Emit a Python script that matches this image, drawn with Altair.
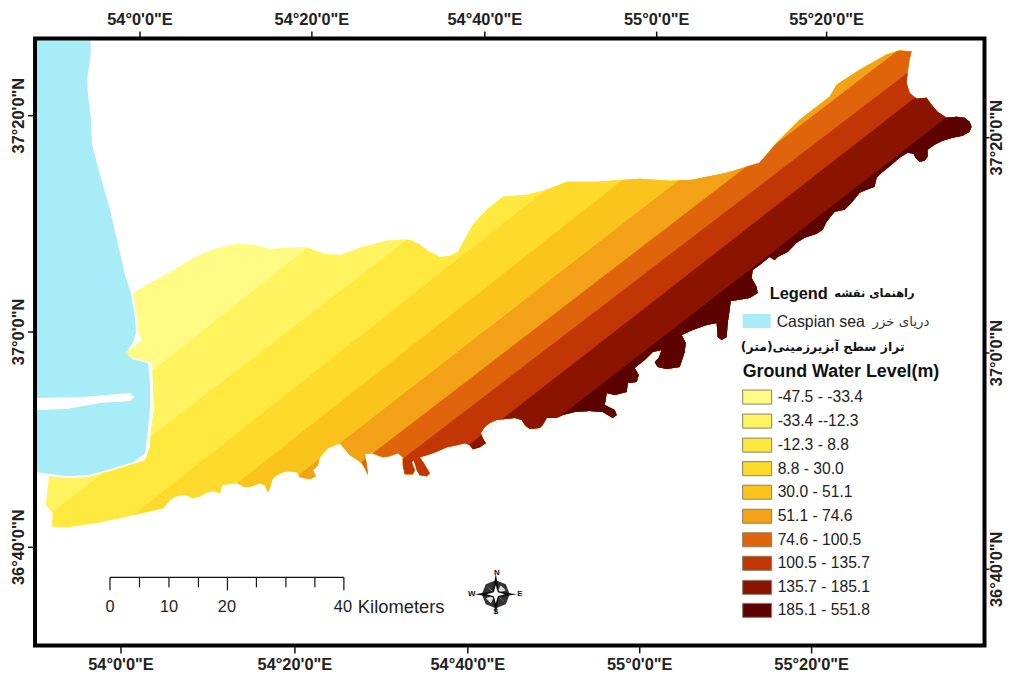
import altair as alt
import pandas as pd

W, H = 1006, 667
FONT = "Liberation Sans"

north_coast = [(133,293),(150,283),(170,272),(195,257),(215,249),(237,244),(255,245),(270,249),(288,248),(305,247),(325,254),(340,255),(363,247),(387,241),(400,240),(410,240),(420,245),(430,252),(440,257),(450,256),(458,252),(463,243),(468,234),(473,225),(487,210),(503,197),(527,195),(547,190),(567,182),(597,182),(640,179),(670,181),(693,180),(727,173),(760,163),(777,143),(800,120),(830,97),(837,85),(860,70),(887,55),(900,51),(912,52),(910,60)]
east_head = [(908,73),(907,83),(910,93),(917,99),(927,98),(932,105),(938,112),(947,118),(957,117),(965,118),(970,122),(972,127),(970,132),(963,136),(953,138),(943,141),(935,145),(928,150),(928,157),(925,161),(920,162),(916,158),(914,154),(908,153),(900,158),(892,165),(882,173),(877,178),(875,187),(867,190),(860,193),(852,203),(845,210),(835,212),(827,222),(823,230),(817,234),(805,238),(797,243),(788,252),(778,257),(775,260),(770,257),(760,265),(753,270),(752,278),(757,287),(758,293),(750,298),(738,300),(731,301),(730,310),(728,323),(727,337),(722,340),(718,337),(717,323)]
south_east = [(707,325),(693,330),(682,335),(686,343),(685,352),(680,367),(667,369),(658,367),(655,362),(659,358),(662,350),(653,352),(645,360),(635,368),(639,375),(637,382),(628,383),(627,392),(615,395),(607,393),(605,405),(615,410),(617,415),(613,418),(603,412),(590,411),(575,412),(563,415),(557,418),(547,418),(543,425),(540,428),(530,429),(525,425),(522,420),(515,418),(505,419),(497,420),(490,423),(485,427),(481,433),(483,438),(486,443),(480,447),(473,449),(470,445),(465,443),(457,445),(447,447),(438,451),(430,454),(420,457),(424,463),(430,473),(427,476),(420,475),(417,470),(414,460),(412,462),(415,470),(413,474),(405,474),(403,465),(403,457),(398,453),(390,456),(383,457),(375,454),(372,453),(365,454),(367,465),(368,475),(365,468),(362,463),(355,458),(350,455),(345,449),(340,443)]
south_west = [(328,448),(320,457),(318,465),(313,470),(316,476),(310,479),(300,477),(297,472),(290,471),(283,472),(275,476),(272,480),(270,488),(268,492),(265,485),(260,483),(252,486),(245,487),(237,483),(228,484),(222,485),(220,493),(214,491),(208,492),(200,496),(193,498),(186,495),(180,495),(174,497),(170,500),(163,508),(150,511),(133,515),(100,522),(67,527),(52,526),(53,513),(46,505),(49,476)]
sea_side = [(68,478),(87,477),(113,470),(145,460),(150,447),(151,430),(154,410),(153,383),(152,363),(130,357),(125,352),(133,347),(142,340),(138,333),(137,317)]
land_x = [p[0] for p in north_coast + east_head + south_east + south_west + sea_side]
land_y = [p[1] for p in north_coast + east_head + south_east + south_west + sea_side]

sea = [(36,40),(90,40),(91,50),(90,60),(87,80),(88,95),(91,120),(92,145),(100,175),(110,210),(117,240),(125,275),(131,293),(135,317),(136,333),(133,342),(127,352),(132,359),(148,363),(150,383),(150,407),(148,430),(145,453),(133,462),(100,472),(87,475),(67,476),(37,472),(36,472)]
sea_x = [p[0] for p in sea]
sea_y = [p[1] for p in sea]
channel_x = [36,83,130,135,130,100,67,36]
channel_y = [398,397,393,397,401,403,409,410]

# class boundaries: two end points of each straight contour
bound_x1 = [147,52,133,237,340,373,405,505,562]
bound_y1 = [375,512,515,483,443,453,457,417,415]
bound_x2 = [307,407,537,623,677,893,908,913,948]
bound_y2 = [248,240,197,180,182,55,73,100,117]

class_labels = ["-47.5 - -33.4","-33.4 --12.3","-12.3 - 8.8","8.8 - 30.0","30.0 - 51.1","51.1 - 74.6","74.6 - 100.5","100.5 - 135.7","135.7 - 185.1","185.1 - 551.8"]
class_colors = ["#FFFB85","#FFF35F","#FFE93F","#FDDA2B","#FAC41C","#F3A116","#E0640C","#C23505","#8A1400","#5C0200"]
SEA = "#A8ECF7"

top_tick_x = [140,312,485,657,827]
bottom_tick_x = [121,295,468,640,812]
lon_labels = ["54°0'0\"E","54°20'0\"E","54°40'0\"E","55°0'0\"E","55°20'0\"E"]
left_tick_y = [116,332,547]
right_tick_y = [138,353,569]
lat_labels = ["37°20'0\"N","37°0'0\"N","36°40'0\"N"]

scale_tick_x = [110,139.5,169,198.5,227.5,256.5,286,315,344]
scale_tick_end = [590,587,587,587,590,587,587,587,590]

X = alt.X("x:Q", axis=None, scale=alt.Scale(domain=[7.94, 1006.5], nice=False, zero=False))
Y = alt.Y("y:Q", axis=None, scale=alt.Scale(domain=[671.9, 11.1], nice=False, zero=False))


def clip(px, py, x1, y1, x2, y2):
    """keep the part of a ring on the south-east side of a contour line"""
    def side(a, b):
        return (x2 - x1) * (b - y1) - (y2 - y1) * (a - x1)
    ox, oy = [], []
    n = len(px)
    for i in range(n):
        a, b = px[i], py[i]
        c, d = px[(i + 1) % n], py[(i + 1) % n]
        sa, sc = side(a, b), side(c, d)
        if sa >= 0:
            ox.append(a); oy.append(b)
        if (sa >= 0) != (sc >= 0):
            t = sa / (sa - sc)
            ox.append(a + t * (c - a)); oy.append(b + t * (d - b))
    return ox, oy


def poly(px, py, color, stroke=0):
    df = pd.DataFrame({"x": list(px) + [px[0]], "y": list(py) + [py[0]], "i": range(len(px) + 1)})
    return alt.Chart(df).mark_line(fill=color, stroke=color, strokeWidth=stroke, interpolate="linear").encode(
        x=X, y=Y, order=alt.Order("i:Q"))


def text(df, size, bold=False, align="center", font=FONT, angle=0, color="#111111"):
    kw = dict(fontSize=size, align=align, baseline="middle", font=font, color=color)
    if bold:
        kw["fontWeight"] = "bold"
    if angle:
        kw["angle"] = angle
    return alt.Chart(pd.DataFrame(df)).mark_text(**kw).encode(x=X, y=Y, text="t:N")


def rules(x1, y1, x2, y2, width=1.5, color="#111111"):
    df = pd.DataFrame({"x": x1, "y": y1, "x2": x2, "y2": y2})
    return alt.Chart(df).mark_rule(color=color, strokeWidth=width).encode(x=X, y=Y, x2="x2:Q", y2="y2:Q")


layers = [poly(sea_x, sea_y, SEA), poly(channel_x, channel_y, "#FFFFFF")]
px, py = land_x, land_y
layers.append(poly(px, py, class_colors[0]))
for k in range(9):
    px, py = clip(px, py, bound_x1[k], bound_y1[k], bound_x2[k], bound_y2[k])
    layers.append(poly(px, py, class_colors[k + 1]))

# frame
layers.append(alt.Chart(pd.DataFrame({"x": [35], "y": [39], "x2": [985], "y2": [645]})).mark_rect(
    fill=None, stroke="#000000", strokeWidth=4).encode(x=X, y=Y, x2="x2:Q", y2="y2:Q"))

# graticule ticks and labels
layers.append(rules(top_tick_x, [32]*5, top_tick_x, [38]*5))
layers.append(rules(bottom_tick_x, [646]*5, bottom_tick_x, [653]*5))
layers.append(rules([28]*3, left_tick_y, [34]*3, left_tick_y))
layers.append(rules([986]*3, right_tick_y, [990]*3, right_tick_y))
layers.append(text({"x": top_tick_x, "y": [20]*5, "t": lon_labels}, 16.5, bold=True, color="#222222"))
layers.append(text({"x": bottom_tick_x, "y": [665]*5, "t": lon_labels}, 16.5, bold=True, color="#222222"))
layers.append(text({"x": [18.5]*3, "y": left_tick_y, "t": lat_labels}, 16.5, bold=True, angle=270, color="#222222"))
layers.append(text({"x": [998]*3, "y": right_tick_y, "t": lat_labels}, 16.5, bold=True, angle=270, color="#222222"))

# scale bar
layers.append(rules([110], [577], [344], [577], 1.2))
layers.append(rules(scale_tick_x, [577]*9, scale_tick_x, scale_tick_end, 1.2))
layers.append(text({"x": [110, 169, 227, 343], "y": [607]*4, "t": ["0", "10", "20", "40"]}, 16.5, color="#222222"))
layers.append(text({"x": [358], "y": [607], "t": ["Kilometers"]}, 18.5, align="left", color="#222222"))

# north arrow
cx, cy = 496, 594
disc_x = [0,10,14,10,0,-10,-14,-10]
disc_y = [-14,-10,0,10,14,10,0,-10]
dark_star_x = [0,3,21,3,0,-3,-21,-3]
dark_star_y = [-21,-3,0,3,21,3,0,-3]
white_x = [0,2,9,2,0,-2,-9,-2]
white_y = [-9,-2,0,2,9,2,0,-2]
wedge_x = [[0,10,5],[0,-10,-5],[0,10,5],[0,-10,-5]]
wedge_y = [[0,-4,-9],[0,4,9],[0,9,4],[0,-9,-4]]
layers.append(poly([cx+a for a in disc_x], [cy+b for b in disc_y], "#333333"))
for wx, wy in zip(wedge_x, wedge_y):
    layers.append(poly([cx+a for a in wx], [cy+b for b in wy], "#DDDDDD"))
layers.append(poly([cx+a for a in dark_star_x], [cy+b for b in dark_star_y], "#111111"))
layers.append(poly([cx+a for a in white_x], [cy+b for b in white_y], "#FFFFFF"))
layers.append(text({"x": [497, 496, 472, 520], "y": [573, 612, 594, 594], "t": ["N", "S", "W", "E"]}, 8, bold=True))

# legend
layers.append(text({"x": [770], "y": [294], "t": ["Legend"]}, 16.5, bold=True, align="left"))
layers.append(text({"x": [915], "y": [294], "t": ["راهنمای نقشه"]}, 11.5, bold=True, align="right", font="DejaVu Sans"))
layers.append(alt.Chart(pd.DataFrame({"x": [743], "y": [314], "x2": [771], "y2": [328]})).mark_rect(fill=SEA).encode(x=X, y=Y, x2="x2:Q", y2="y2:Q"))
layers.append(text({"x": [777], "y": [322], "t": ["Caspian sea"]}, 16, align="left", color="#222222"))
layers.append(text({"x": [930], "y": [322], "t": ["دریای خزر"]}, 13.5, align="right", font="DejaVu Sans", color="#333333"))
layers.append(text({"x": [905], "y": [347], "t": ["تراز سطح آبزیرزمینی(متر)"]}, 12.5, bold=True, align="right", font="DejaVu Sans"))
layers.append(text({"x": [743], "y": [372], "t": ["Ground Water Level(m)"]}, 18, bold=True, align="left"))
sw_y = [397,421,445,468.5,492,516,539.5,563,587,610]
layers.append(alt.Chart(pd.DataFrame({"x": [743]*10, "x2": [772]*10, "y": [v-7 for v in sw_y], "y2": [v+7 for v in sw_y], "c": class_labels})).mark_rect(
    stroke="#8a8060", strokeWidth=1).encode(x=X, y=Y, x2="x2:Q", y2="y2:Q",
    fill=alt.Fill("c:N", scale=alt.Scale(domain=class_labels, range=class_colors), legend=None)))
layers.append(text({"x": [778]*10, "y": sw_y, "t": class_labels}, 15.8, align="left", color="#222222"))

chart = alt.layer(*layers).properties(
    width=W, height=H, padding=0, autosize=alt.AutoSizeParams(type="none"), background="white"
).configure_view(stroke=None)
chart.save("out.html", embed_options={"renderer": "svg", "actions": False})
